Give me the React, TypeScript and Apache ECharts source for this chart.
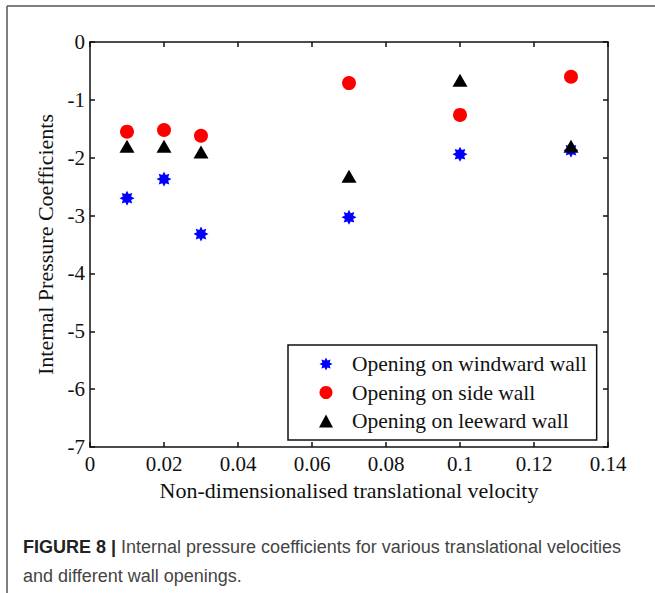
import React, { useEffect, useRef } from "react";
import * as echarts from "echarts";

const xValues = [0.01, 0.02, 0.03, 0.07, 0.1, 0.13];
const windward = [-2.7, -2.37, -3.32, -3.03, -1.94, -1.87];
const side = [-1.55, -1.52, -1.62, -0.71, -1.26, -0.6];
const leeward = [-1.8, -1.8, -1.9, -2.32, -0.66, -1.8];
const seriesNames = ["Opening on windward wall", "Opening on side wall", "Opening on leeward wall"];
const xTicks = { min: 0, max: 0.14, interval: 0.02 };
const yTicks = { min: -7, max: 0, interval: 1 };

function starPath(): string {
  const pts: string[] = [];
  for (let i = 0; i < 16; i++) {
    const a = (i * Math.PI) / 8 - Math.PI / 2;
    const r = i % 2 === 0 ? 10 : 6;
    pts.push(`${(10 + r * Math.cos(a)).toFixed(2)} ${(10 + r * Math.sin(a)).toFixed(2)}`);
  }
  return "path://M" + pts.join(" L") + " Z";
}

export default function App() {
  const ref = useRef<HTMLDivElement>(null);
  useEffect(() => {
    if (!ref.current) return;
    const chart = echarts.init(ref.current, null, { renderer: "svg" });
    const serif = "Liberation Serif";
    const ink = "#111";
    const axisCommon = {
      axisLine: { show: true, onZero: false, lineStyle: { color: ink, width: 1.5 } },
      axisTick: { show: true, inside: true, length: 5, lineStyle: { color: ink, width: 1.5 } },
      splitLine: { show: false },
    };
    const pair = (a: number[], b: number[]) => a.map((x, i) => [x, b[i]]);
    const star = starPath();
    chart.setOption({
      animation: false,
      backgroundColor: "#fff",
      grid: { left: 90, right: 47, top: 42, bottom: 146, containLabel: false },
      xAxis: [
        {
          type: "value",
          ...xTicks,
          position: "bottom",
          ...axisCommon,
          axisLabel: {
            fontFamily: serif,
            fontSize: 21,
            color: ink,
            margin: 6,
            formatter: (v: number) => String(Number(v.toFixed(2))),
          },
          name: "Non-dimensionalised translational velocity",
          nameLocation: "middle",
          nameGap: 32,
          nameTextStyle: { fontFamily: serif, fontSize: 22, color: ink, verticalAlign: "top" },
        },
        {
          type: "value",
          ...xTicks,
          position: "top",
          ...axisCommon,
          axisLabel: { show: false },
        },
      ],
      yAxis: [
        {
          type: "value",
          ...yTicks,
          position: "left",
          ...axisCommon,
          axisLabel: { fontFamily: serif, fontSize: 21, color: ink, margin: 5 },
          name: "Internal Pressure Coefficients",
          nameLocation: "middle",
          nameGap: 31,
          nameTextStyle: { fontFamily: serif, fontSize: 22, color: ink },
        },
        {
          type: "value",
          ...yTicks,
          position: "right",
          ...axisCommon,
          axisLabel: { show: false },
        },
      ],
      legend: {
        orient: "vertical",
        left: 288,
        top: 345,
        padding: [8, 10, 8, 31],
        itemGap: 6.5,
        itemWidth: 14,
        itemHeight: 13,
        borderColor: ink,
        borderWidth: 1.5,
        backgroundColor: "#fff",
        textStyle: { fontFamily: serif, fontSize: 21.5, lineHeight: 21, color: ink, padding: [0, 0, 0, 14] },
        data: [
          { name: seriesNames[0], icon: star },
          { name: seriesNames[1], icon: "circle" },
          { name: seriesNames[2], icon: "triangle" },
        ],
      },
      series: [
        {
          name: seriesNames[0],
          type: "scatter",
          data: pair(xValues, windward),
          symbol: star,
          symbolSize: 15,
          itemStyle: { color: "#0000ff", opacity: 1 },
        },
        {
          name: seriesNames[1],
          type: "scatter",
          data: pair(xValues, side),
          symbol: "circle",
          symbolSize: 14,
          itemStyle: { color: "#ff0000", opacity: 1 },
        },
        {
          name: seriesNames[2],
          type: "scatter",
          data: pair(xValues, leeward),
          symbol: "triangle",
          symbolSize: [15, 13],
          itemStyle: { color: "#000", opacity: 1 },
        },
      ],
      graphic: [
        { type: "line", shape: { x1: 7, y1: 6, x2: 655, y2: 6 }, style: { stroke: "#555", lineWidth: 1.5 } },
        { type: "line", shape: { x1: 7, y1: 6, x2: 7, y2: 593 }, style: { stroke: "#555", lineWidth: 1.5 } },
        {
          type: "text",
          left: 23,
          top: 538,
          style: {
            text: "{b|FIGURE 8 |} Internal pressure coefficients for various translational velocities",
            fontFamily: "Liberation Sans",
            fontSize: 18,
            fill: "#444",
            rich: { b: { fontWeight: "bold", fontFamily: "Liberation Sans", fontSize: 18, fill: "#222" } },
          },
        },
        {
          type: "text",
          left: 23,
          top: 567,
          style: { text: "and different wall openings.", fontFamily: "Liberation Sans", fontSize: 18, fill: "#444" },
        },
      ],
    });
    return () => chart.dispose();
  }, []);
  return <div ref={ref} style={{ position: "absolute", left: 0, top: 0, width: 655, height: 593 }} />;
}
